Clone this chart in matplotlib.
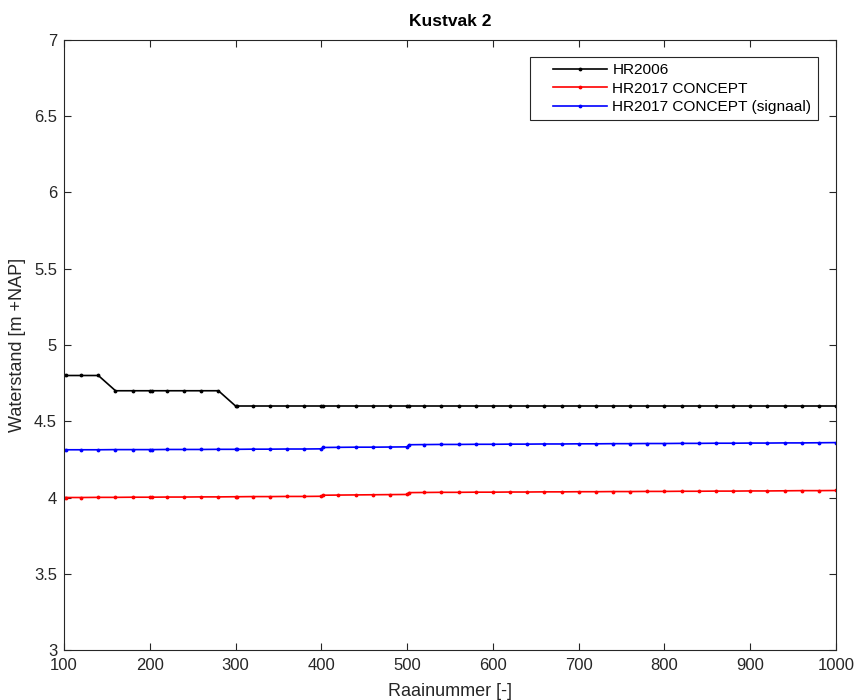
import matplotlib
matplotlib.use("Agg")
import matplotlib.pyplot as plt
from matplotlib.ticker import FuncFormatter
from matplotlib.patches import Rectangle

plt.rcParams['font.family'] = ['Liberation Sans', 'DejaVu Sans']

raai = ([100, 102, 120, 140, 160, 180, 200, 202, 220, 240, 260, 280, 300, 302,
         320, 340, 360, 380, 400, 402, 420, 440, 460, 480, 500, 502]
        + list(range(520, 1001, 20)))

hr2006 = [4.8] * 4 + [4.7] * 8 + [4.6] * 39

hr2017 = [4.000, 4.000, 4.000, 4.001, 4.001, 4.002, 4.002, 4.002, 4.003, 4.003,
          4.004, 4.004, 4.005, 4.005, 4.006, 4.006, 4.007, 4.007, 4.008,
          4.015, 4.016, 4.017, 4.018, 4.019, 4.020,
          4.032, 4.033, 4.034, 4.034, 4.035, 4.035, 4.036, 4.036, 4.037, 4.037,
          4.038, 4.038, 4.039, 4.039, 4.040, 4.040, 4.041, 4.041, 4.042, 4.042,
          4.043, 4.043, 4.044, 4.045, 4.045, 4.046]

hr2017_sig = [4.313, 4.313, 4.313, 4.313, 4.314, 4.314, 4.314, 4.314, 4.315, 4.315,
              4.315, 4.316, 4.316, 4.316, 4.317, 4.317, 4.318, 4.318, 4.319,
              4.328, 4.329, 4.330, 4.330, 4.331, 4.332,
              4.346, 4.347, 4.348, 4.348, 4.349, 4.349, 4.350, 4.350, 4.351, 4.351,
              4.352, 4.352, 4.353, 4.353, 4.354, 4.354, 4.355, 4.355, 4.356, 4.356,
              4.357, 4.357, 4.358, 4.358, 4.359, 4.360]

labels = ['HR2006', 'HR2017 CONCEPT', 'HR2017 CONCEPT (signaal)']
colors = ['black', 'red', 'blue']
xticks = list(range(100, 1001, 100))
yticks = [3, 3.5, 4, 4.5, 5, 5.5, 6, 6.5, 7]

fig = plt.figure(figsize=(8.56, 7.0), dpi=100)
ax = fig.add_axes([0.0748, 0.0714, 0.9018, 0.8715])

for ys, c, lab in zip([hr2006, hr2017, hr2017_sig], colors, labels):
    ax.plot(raai, ys, color=c, lw=1.2, marker='.', markersize=3.5, label=lab)

ax.set_xlim(100, 1000)
ax.set_ylim(3, 7)
ax.set_xticks(xticks)
ax.set_yticks(yticks)
ax.yaxis.set_major_formatter(FuncFormatter(lambda v, p: ('%g' % v)))
ax.tick_params(direction='in', top=True, right=True, length=5, width=0.8,
               labelsize=12, colors='#262626')
ax.tick_params(axis='x', pad=6)
ax.tick_params(axis='y', pad=5)
for s in ax.spines.values():
    s.set_color('#262626')
    s.set_linewidth(0.8)

ax.set_title('Kustvak 2', fontsize=12.5, fontweight='bold', pad=10)
ax.set_xlabel('Raainummer [-]', fontsize=13, color='#262626', labelpad=7)
ax.set_ylabel('Waterstand [m +NAP]', fontsize=13, color='#262626', labelpad=6)

# legend frame drawn separately (MATLAB-style wide padding)
frame = Rectangle((0.6036, 0.8689), 0.9767 - 0.6036, 0.9721 - 0.8689,
                  transform=ax.transAxes, facecolor='white',
                  edgecolor='#262626', lw=0.8, zorder=4)
ax.add_patch(frame)
leg = ax.legend(loc='upper left', bbox_to_anchor=(0.6334, 0.962), fontsize=11.1,
                frameon=False, handlelength=3.5, borderpad=0, labelspacing=0.3,
                handletextpad=0.35, borderaxespad=0)
leg.set_zorder(5)

fig.savefig('out.png', dpi=100)
